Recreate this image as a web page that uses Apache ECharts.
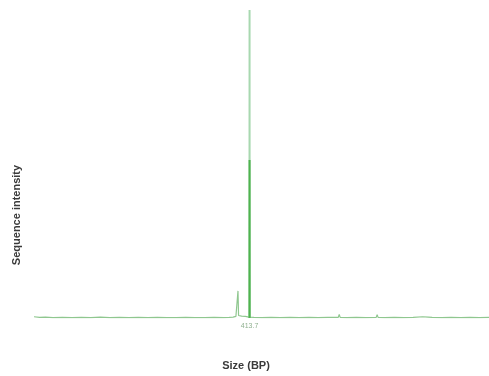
<!DOCTYPE html>
<html>
<head>
<meta charset="utf-8">
<script src="https://cdn.jsdelivr.net/npm/echarts@6/dist/echarts.min.js"></script>
<style>html,body{margin:0;padding:0;background:#fff;}#c{width:489px;height:376px;}</style>
</head>
<body>
<div id="c"></div>
<script>
// Size (bp) and intensity of the trace (baseline and small peaks)
const sizes = [300,303,306,310,315,320,325,330,335,340,345,350,355,360,365,370,375,380,385,390,395,400,403,405,406.5,407.3,407.6,407.9,408.5,409.5,410.5,411.5,412.5,413.3,413.7,414.2,416,420,425,430,435,440,445,450,455,460.5,461,461.5,465,470,475,480.5,481,481.5,485,490,495,500,505,508,510,515,520,525,530,535,540];
const intensity = [4,2,3,1,2,1,2,1,3,1,2,1,2,1,2,1,1,2,1,1,2,1,2,3,5,8,88,8,12,6,12,5,8,3,0,3,2,1,2,1,2,1,2,1,2,2,12,2,1,2,1,2,11,2,1,2,1,2,4,3,2,1,2,1,2,1,2];
// Main peak: pale full-height part and darker lower part
const peakSizes = [413.65,413.7,413.75];
const peakFull = [0,1000,0];
const peakLower = [0,513,0];
const tickLabels = [413.7];

const main = sizes.map((s,i)=>[s,intensity[i]]);
const full = peakSizes.map((s,i)=>[s,peakFull[i]]);
const lower = peakSizes.map((s,i)=>[s,peakLower[i]]);

const chart = echarts.init(document.getElementById('c'));
chart.setOption({
  animation:false,
  grid:{left:34,right:0,top:10,bottom:58},
  xAxis:{type:'value',min:300,max:540,
    axisLine:{show:false},axisTick:{show:false},splitLine:{show:false},
    axisLabel:{customValues:tickLabels,color:'#8fb08f',fontSize:7,margin:5,fontFamily:'Liberation Sans',
      formatter:v=>v.toFixed(1)}},
  yAxis:{type:'value',min:0,max:1000,show:false},
  graphic:[
    {type:'text',x:246,y:366,style:{text:'Size (BP)',fill:'#3a3a3a',font:'bold 11px "Liberation Sans"',textAlign:'center',textVerticalAlign:'middle'}},
    {type:'text',x:17,y:215,rotation:Math.PI/2,style:{text:'Sequence intensity',fill:'#3a3a3a',font:'bold 11px "Liberation Sans"',textAlign:'center',textVerticalAlign:'middle'}}
  ],
  series:[
    {type:'line',data:main,symbol:'none',lineStyle:{color:'#8fc78f',width:1.2}},
    {type:'line',data:full,symbol:'none',lineStyle:{color:'#a8d8b0',width:2}},
    {type:'line',data:lower,symbol:'none',lineStyle:{color:'#4fb34f',width:2}}
  ]
});
</script>
</body>
</html>
